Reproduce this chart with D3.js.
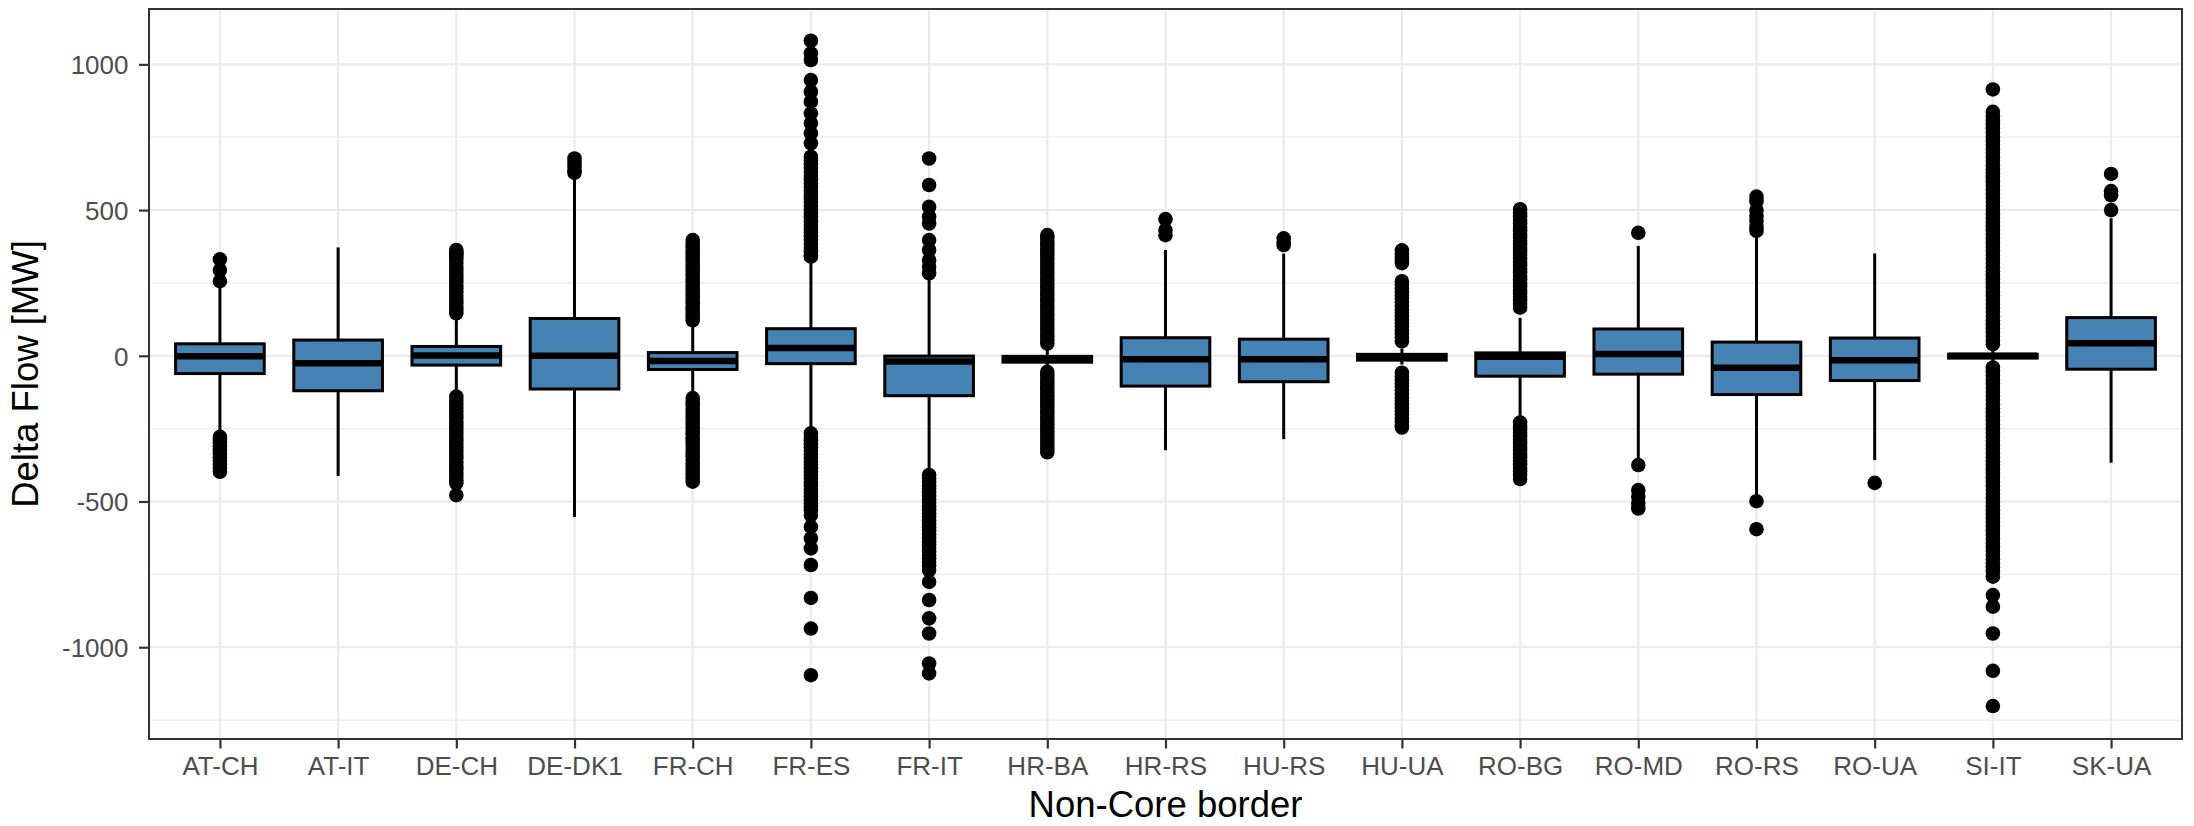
<!DOCTYPE html>
<html>
<head>
<meta charset="utf-8">
<script src="https://cdn.jsdelivr.net/npm/d3@7"></script>
<style>
  html, body { margin: 0; padding: 0; background: #ffffff; }
  svg { display: block; font-family: "Liberation Sans", Arial, Helvetica, sans-serif; }
</style>
</head>
<body>
<svg id="chart" width="2194" height="826"></svg>
<script>
// ---------------- DATA ----------------
const categories = ["AT-CH","AT-IT","DE-CH","DE-DK1","FR-CH","FR-ES","FR-IT","HR-BA","HR-RS","HU-RS","HU-UA","RO-BG","RO-MD","RO-RS","RO-UA","SI-IT","SK-UA"];

const q1          = [ -61, -120, -32, -114, -47, -27, -137, -22, -104, -89, -15, -70, -63, -133, -85, -8, -46];
const median      = [  -2,  -26,   1,    0, -18,  27,  -20, -12,  -12, -12,  -3,  -3,   6,  -41, -15,  0,  43];
const q3          = [  41,   54,  32,  128,  11,  93,   -1,  -2,   62,  57,   5,  10,  92,   47,  61,  5, 131];
const whiskerLow  = [-262, -412, -130, -553, -135, -260, -400, -45, -324, -286, -30, -215, -352, -478, -358, -30, -367];
const whiskerHigh = [ 240,  372, 140,  610, 105, 318,  260,  20,  363, 351,  25, 130, 377,  406, 351, 18, 472];

const outliers = [
  // AT-CH
  [331, 294, 256, -278, -288, -298, -310, -322, -335, -348, -360, -372, -385, -398],
  // AT-IT
  [],
  // DE-CH
  [363, 355, 348, 340, 330, 318, 305, 292, 280, 268, 255, 242, 230, 218, 205, 192, 180, 168, 156, 146,
   -140, -152, -165, -178, -190, -203, -215, -228, -240, -253, -265, -278, -290, -302, -315, -328, -340,
   -352, -365, -378, -390, -402, -415, -427, -437, -478],
  // DE-DK1
  [677, 665, 650, 637, 628],
  // FR-CH
  [397, 385, 372, 360, 348, 336, 324, 312, 300, 288, 276, 264, 252, 240, 228, 216, 204, 192, 180, 168, 156, 144, 132, 122,
   -145, -158, -170, -183, -195, -208, -220, -233, -245, -258, -270, -283, -295, -308, -320, -333, -345, -358, -370, -383,
   -395, -408, -420, -432],
  // FR-ES
  [1081, 1038, 1015, 946, 906, 872, 832, 798, 763, 729, 683, 670, 657, 644, 631, 618, 605, 592, 579, 566, 553, 540, 527,
   514, 501, 488, 475, 462, 449, 436, 423, 410, 397, 384, 371, 358, 345, 340,
   -266, -278, -290, -302, -314, -326, -338, -350, -362, -374, -386, -398, -410, -422, -434, -446, -458, -470, -482, -494,
   -506, -518, -530, -547, -587, -627, -661, -718, -831, -936, -1096],
  // FR-IT
  [677, 586, 511, 477, 454, 397, 363, 328, 305, 283,
   -409, -420, -432, -444, -456, -468, -480, -492, -504, -516, -528, -540, -552, -564, -576, -588, -600, -612, -624, -636,
   -648, -660, -672, -684, -696, -708, -720, -735, -776, -838, -901, -953, -1056, -1090],
  // HR-BA
  [414, 402, 390, 378, 366, 354, 342, 330, 318, 306, 294, 282, 270, 258, 246, 234, 222, 210, 198, 186, 174, 162, 150, 138,
   126, 114, 102, 90, 78, 66, 54, 42,
   -55, -67, -79, -91, -103, -115, -127, -139, -151, -163, -175, -187, -199, -211, -223, -235, -247, -259, -271, -283,
   -295, -307, -319, -331],
  // HR-RS
  [469, 431, 414],
  // HU-RS
  [403, 390, 380],
  // HU-UA
  [362, 350, 338, 326, 318, 256, 244, 232, 220, 208, 196, 184, 172, 160, 148, 136, 124, 112, 100, 88, 76, 64, 50,
   -58, -70, -82, -94, -106, -118, -130, -142, -154, -166, -178, -190, -202, -214, -226, -238, -246],
  // RO-BG
  [503, 490, 478, 466, 454, 442, 430, 418, 406, 394, 382, 370, 358, 346, 334, 322, 310, 298, 286, 274, 262, 250, 238, 226,
   214, 202, 190, 178, 165,
   -229, -241, -253, -265, -277, -289, -301, -313, -325, -337, -349, -361, -373, -385, -397, -409, -423],
  // RO-MD
  [422, -375, -461, -484, -506, -524],
  // RO-RS
  [546, 530, 500, 480, 463, 443, 429, -499, -595],
  // RO-UA
  [-436],
  // SI-IT
  [914, 837, 822, 808, 794, 780, 766, 752, 738, 724, 710, 696, 682, 668, 654, 640, 626, 612, 598, 584, 570, 556, 542, 528,
   514, 500, 486, 472, 458, 444, 430, 416, 402, 388, 374, 360, 346, 332, 318, 304, 290, 276, 262, 248, 234, 220, 206, 192,
   178, 164, 150, 136, 122, 108, 94, 80, 66, 52, 40,
   -40, -54, -68, -82, -96, -110, -124, -138, -152, -166, -180, -194, -208, -222, -236, -250, -264, -278, -292, -306, -320,
   -334, -348, -362, -376, -390, -404, -418, -432, -446, -460, -474, -488, -502, -516, -530, -544, -558, -572, -586, -600,
   -614, -628, -642, -656, -670, -684, -698, -712, -726, -740, -758, -821, -861, -953, -1081, -1202],
  // SK-UA
  [624, 565, 551, 500]
];

const yMajorTicks = [-1000, -500, 0, 500, 1000];
const yMinorTicks = [-1250, -750, -250, 250, 750];
const xTitle = "Non-Core border";
const yTitle = "Delta Flow [MW]";

// ---------------- LAYOUT ----------------
const panel = { left: 149, right: 2182, top: 9, bottom: 739 };
const svg = d3.select("#chart");

const x = d3.scalePoint().domain(categories).range([panel.left, panel.right]).padding(0.6);
const y = d3.scaleLinear().domain([-1315, 1190]).range([panel.bottom, panel.top]);
const boxW = x.step() * 0.75;

const gridColor = "#EBEBEB";

// background
svg.append("rect").attr("x", 0).attr("y", 0).attr("width", 2194).attr("height", 826).attr("fill", "#fff");

// grid
const grid = svg.append("g");
grid.selectAll("line.ymin").data(yMinorTicks).join("line")
  .attr("x1", panel.left).attr("x2", panel.right)
  .attr("y1", d => y(d)).attr("y2", d => y(d))
  .attr("stroke", gridColor).attr("stroke-width", 1.2);
grid.selectAll("line.ymaj").data(yMajorTicks).join("line")
  .attr("x1", panel.left).attr("x2", panel.right)
  .attr("y1", d => y(d)).attr("y2", d => y(d))
  .attr("stroke", gridColor).attr("stroke-width", 2.3);
grid.selectAll("line.xmaj").data(categories).join("line")
  .attr("x1", d => x(d)).attr("x2", d => x(d))
  .attr("y1", panel.top).attr("y2", panel.bottom)
  .attr("stroke", gridColor).attr("stroke-width", 2.3);

// boxplots
const lw = 3;
const groups = svg.append("g").selectAll("g.box").data(categories).join("g");
groups.each(function(cat, i) {
  const g = d3.select(this);
  const cx = x(cat);
  // outliers
  g.selectAll("circle").data(outliers[i]).join("circle")
    .attr("cx", cx).attr("cy", d => y(d)).attr("r", 7.3).attr("fill", "#000");
  // whiskers
  g.append("line").attr("x1", cx).attr("x2", cx)
    .attr("y1", y(q3[i])).attr("y2", y(whiskerHigh[i]))
    .attr("stroke", "#000").attr("stroke-width", lw);
  g.append("line").attr("x1", cx).attr("x2", cx)
    .attr("y1", y(q1[i])).attr("y2", y(whiskerLow[i]))
    .attr("stroke", "#000").attr("stroke-width", lw);
  // box
  g.append("rect")
    .attr("x", cx - boxW / 2).attr("width", boxW)
    .attr("y", y(q3[i])).attr("height", Math.max(0.5, y(q1[i]) - y(q3[i])))
    .attr("fill", "#4682B4").attr("stroke", "#000").attr("stroke-width", lw);
  // median
  g.append("line").attr("x1", cx - boxW / 2).attr("x2", cx + boxW / 2)
    .attr("y1", y(median[i])).attr("y2", y(median[i]))
    .attr("stroke", "#000").attr("stroke-width", 6.5);
});

// panel border
svg.append("rect")
  .attr("x", panel.left).attr("y", panel.top)
  .attr("width", panel.right - panel.left).attr("height", panel.bottom - panel.top)
  .attr("fill", "none").attr("stroke", "#333333").attr("stroke-width", 2);

// axes
const yAxis = svg.append("g").attr("transform", `translate(${panel.left},0)`)
  .call(d3.axisLeft(y).tickValues(yMajorTicks).tickSize(10).tickPadding(10.5).tickFormat(d => String(d)));
const xAxis = svg.append("g").attr("transform", `translate(0,${panel.bottom})`)
  .call(d3.axisBottom(x).tickSize(9.5).tickPadding(8.5));
[yAxis, xAxis].forEach(a => {
  a.select(".domain").remove();
  a.selectAll(".tick line").attr("stroke", "#333333").attr("stroke-width", 2.2);
  a.selectAll(".tick text").attr("fill", "#4D4D4D").style("font-size", "26px")
    .style("font-family", "'Liberation Sans', Arial, Helvetica, sans-serif");
});
yAxis.selectAll(".tick text").attr("dy", "0.36em");

// titles
svg.append("text")
  .attr("x", (panel.left + panel.right) / 2).attr("y", 817)
  .attr("text-anchor", "middle").attr("fill", "#000")
  .style("font-size", "36.5px").text(xTitle);
svg.append("text")
  .attr("transform", `translate(38,${(panel.top + panel.bottom) / 2}) rotate(-90)`)
  .attr("text-anchor", "middle").attr("fill", "#000")
  .style("font-size", "36.5px").text(yTitle);
</script>
</body>
</html>
